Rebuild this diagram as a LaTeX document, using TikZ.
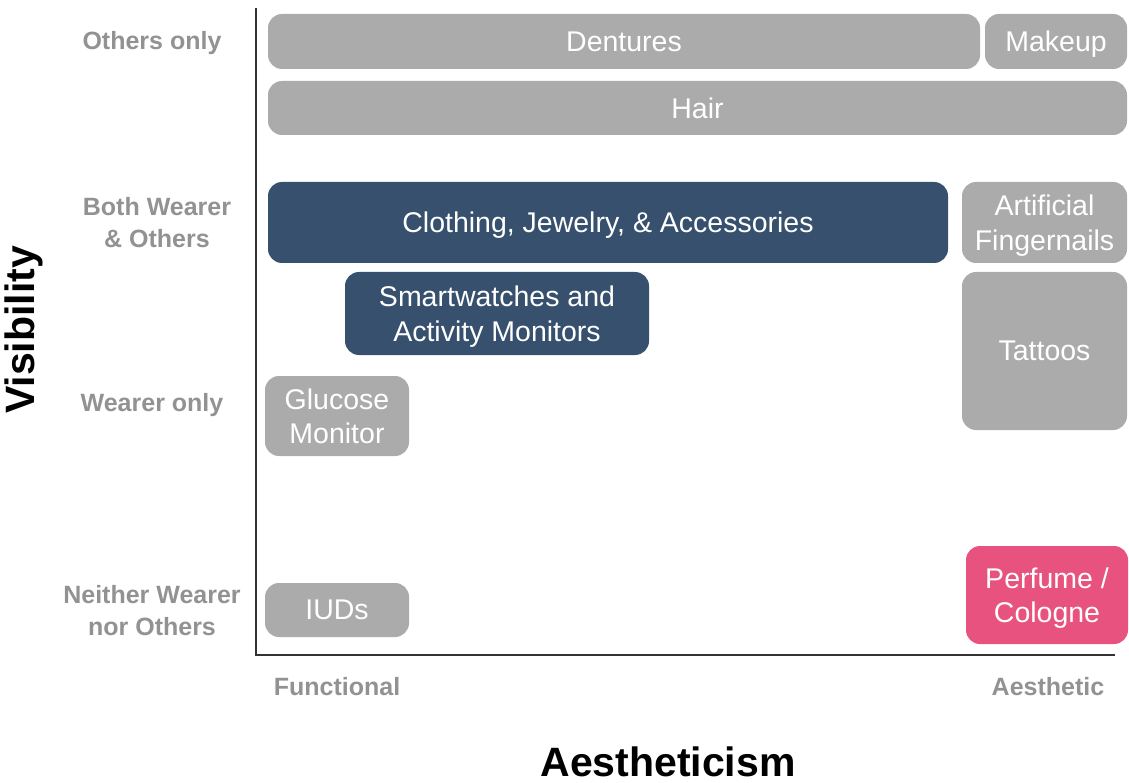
\documentclass[tikz,border=0pt]{standalone}
\usepackage{fontspec}
\setmainfont{Liberation Sans}
\definecolor{boxgray}{HTML}{ABABAB}
\definecolor{navy}{HTML}{36506D}
\definecolor{pinkbox}{HTML}{E8527F}
\definecolor{labgray}{HTML}{929292}
\definecolor{axisc}{HTML}{333333}
\begin{document}
\begin{tikzpicture}[x=1pt,y=-1pt,
  cat/.style={rectangle, rounded corners=14pt, inner sep=0pt, align=center, text=white,
    text depth=0pt, font=\fontsize{28.5}{34.5}\selectfont},
  graybox/.style={cat, fill=boxgray},
  navybox/.style={cat, fill=navy},
  pinkcat/.style={cat, fill=pinkbox},
  rowlab/.style={align=center, text=labgray, font=\bfseries\fontsize{25}{32}\selectfont},
  axlab/.style={text=black, font=\bfseries\fontsize{41}{46}\selectfont},
  axisline/.style={draw=axisc, line width=1.6pt}]
\useasboundingbox (0,0) rectangle (1129,783);
% axes
\coordinate (top) at (256,8);
\coordinate (origin) at (256,655);
\coordinate (right) at (1115,655);
\draw[axisline] (top) -- (origin) -- (right);
% boxes
\node[graybox, minimum width=712pt, minimum height=55pt] (dentures) at (624,41.5) {Dentures};
\node[graybox, minimum width=142pt, minimum height=55pt] (makeup) at (1056,41.5) {Makeup};
\node[graybox, minimum width=859pt, minimum height=54pt] (hair) at (697.5,108) {Hair};
\node[navybox, minimum width=680pt, minimum height=81pt] (clothing) at (608,222.5) {Clothing, Jewelry, \& Accessories};
\node[graybox, minimum width=165pt, minimum height=81pt] (nails) at (1044.5,222.5) {Artificial\\Fingernails};
\node[navybox, minimum width=304pt, minimum height=83pt] (smart) at (497,313.5) {Smartwatches and\\Activity Monitors};
\node[graybox, minimum width=165pt, minimum height=158pt] (tattoos) at (1044.5,351) {Tattoos};
\node[graybox, minimum width=144pt, minimum height=80pt] (glucose) at (337,416) {Glucose\\Monitor};
\node[graybox, minimum width=144pt, minimum height=54pt] (iuds) at (337,610) {IUDs};
\node[pinkcat, minimum width=162pt, minimum height=98pt] (perfume) at (1047,595) {Perfume /\\Cologne};
% row labels
\node[rowlab] (others) at (152,43) {Others only};
\node[rowlab] (both) at (157,223) {Both Wearer\\\& Others};
\node[rowlab] (wearer) at (152,405) {Wearer only};
\node[rowlab] (neither) at (152,611) {Neither Wearer\\nor Others};
% column labels
\node[rowlab] (functional) at (337,687) {Functional};
\node[rowlab] (aesthetic) at (1048,687) {Aesthetic};
% axis titles
\node[axlab] (xtitle) at (668,762) {Aestheticism};
\node[axlab, rotate=90] (ytitle) at (24,330) {Visibility};
\end{tikzpicture}
\end{document}
